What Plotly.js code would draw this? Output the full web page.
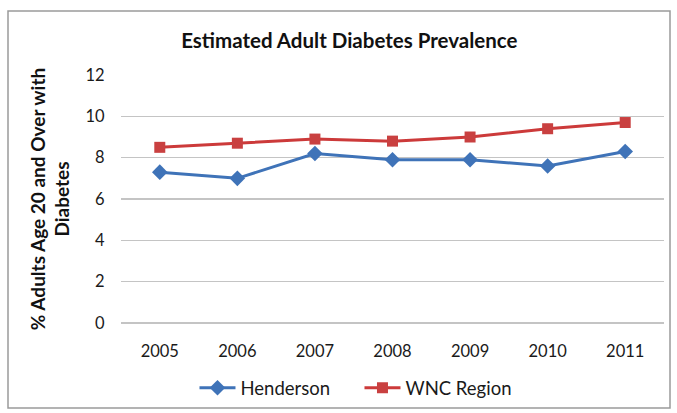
<!DOCTYPE html>
<html>
<head>
<meta charset="utf-8">
<script src="https://cdn.plot.ly/plotly-3.0.1.min.js"></script>
<style>html,body{margin:0;padding:0;background:#fff;}#chart{width:677px;height:413px;}</style>
</head>
<body>
<div id="chart"></div>
<script>
const years = ['2005','2006','2007','2008','2009','2010','2011'];
const henderson = [7.3, 7.0, 8.2, 7.9, 7.9, 7.6, 8.3];
const wnc = [8.5, 8.7, 8.9, 8.8, 9.0, 9.4, 9.7];
const yTicks = [0, 2, 4, 6, 8, 10, 12];

const font = 'Lato, "Open Sans", "Liberation Sans", sans-serif';

const traces = [
  {
    x: years, y: henderson, name: 'Henderson', type: 'scatter', mode: 'lines+markers',
    line: {color: '#3f73b8', width: 3},
    marker: {symbol: 'diamond', size: 12, color: '#3f73b8'}
  },
  {
    x: years, y: wnc, name: 'WNC Region', type: 'scatter', mode: 'lines+markers',
    line: {color: '#cc3a3a', width: 3},
    marker: {symbol: 'square', size: 11, color: '#c94040'}
  }
];

const layout = {
  width: 677, height: 413,
  margin: {l: 121, r: 13, t: 75, b: 90},
  paper_bgcolor: '#ffffff', plot_bgcolor: '#ffffff',
  font: {family: font, size: 16, color: '#1a1a1a'},
  title: {
    text: '<b>Estimated Adult Diabetes Prevalence</b>',
    font: {family: font, size: 20.5, color: '#111'},
    x: 0.516, xref: 'container', xanchor: 'center',
    y: 0.9, yref: 'container', yanchor: 'middle'
  },
  xaxis: {
    type: 'category', range: [-0.5, 6.5],
    showgrid: false, showline: false, zeroline: false,
    ticks: 'outside', ticklen: 13, tickcolor: 'rgba(0,0,0,0)',
    tickfont: {family: font, size: 16.5, color: '#1a1a1a'}
  },
  yaxis: {
    range: [0, 12], tickvals: yTicks, ticktext: yTicks.map(String),
    showgrid: true, gridcolor: '#c4c4c4', gridwidth: 1.5,
    zeroline: true, zerolinecolor: '#c4c4c4', zerolinewidth: 1.5,
    showline: false,
    ticks: 'outside', ticklen: 12, tickcolor: 'rgba(0,0,0,0)',
    tickfont: {family: font, size: 16.5, color: '#1a1a1a'},
    title: {
      text: '<b>% Adults Age 20 and Over with<br>Diabetes</b>',
      font: {family: font, size: 19, color: '#111'},
      standoff: 10
    }
  },
  showlegend: true,
  legend: {
    orientation: 'h', xref: 'container', yref: 'container',
    x: 0.531, xanchor: 'center', y: 0.06, yanchor: 'middle',
    font: {family: font, size: 18.5, color: '#1a1a1a'},
    itemwidth: 36, tracegroupgap: 0,
    entrywidth: 114, entrywidthmode: 'pixels'
  },
  shapes: [
    {type: 'rect', xref: 'paper', yref: 'paper', layer: 'below',
     x0: -113/543, x1: 670/543 - 121/543, y0: -85/248, y1: 1 + 64/248,
     line: {color: '#9a9a9a', width: 1.5}, fillcolor: 'rgba(0,0,0,0)'}
  ]
};

Plotly.newPlot('chart', traces, layout, {displayModeBar: false, staticPlot: true});
</script>
</body>
</html>
